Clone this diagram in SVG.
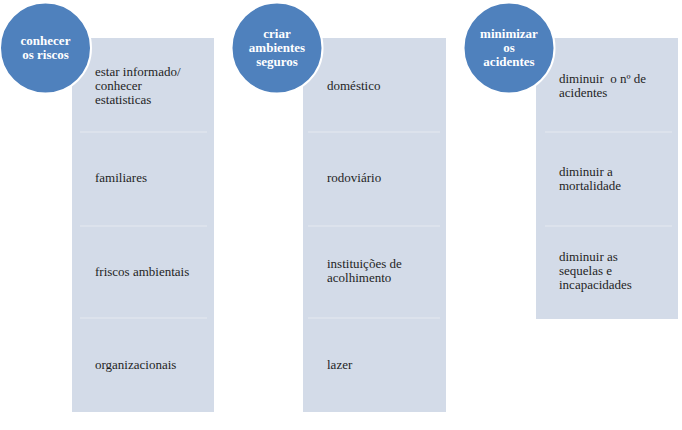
<svg xmlns="http://www.w3.org/2000/svg" width="682" height="430" viewBox="0 0 682 430">
<style>
.panel{fill:#D3DBE8}
.sep{stroke:#DCE2EC;stroke-width:2}
.circ{fill:#4F81BD;stroke:#FFFFFF;stroke-width:2}
.t{font-family:"Liberation Serif","Times New Roman",serif;font-size:13px;fill:#1F1F1F}
.ct{font-family:"Liberation Serif","Times New Roman",serif;font-size:13px;font-weight:bold;fill:#FFFFFF;text-anchor:middle}
</style>
<rect width="682" height="430" fill="#FFFFFF"/>
<g id="connectors"></g>
<g id="col1">
<rect class="panel" x="72" y="38" width="142" height="374"/>
<line class="sep" x1="80" y1="132" x2="207" y2="132"/>
<line class="sep" x1="80" y1="226" x2="207" y2="226"/>
<line class="sep" x1="80" y1="318" x2="207" y2="318"/>
<text class="t" x="95" y="76">estar informado/</text>
<text class="t" x="95" y="90">conhecer</text>
<text class="t" x="95" y="104">estatisticas</text>
<text class="t" x="95" y="182">familiares</text>
<text class="t" x="95" y="276">friscos ambientais</text>
<text class="t" x="95" y="369">organizacionais</text>
</g>
<g id="circle1">
<circle class="circ" cx="45.5" cy="48" r="45.5"/>
<text class="ct" x="45.5" y="45">conhecer</text>
<text class="ct" x="45.5" y="59">os riscos</text>
</g>
<g id="col2">
<rect class="panel" x="303" y="38" width="143" height="374"/>
<line class="sep" x1="308" y1="132" x2="440" y2="132"/>
<line class="sep" x1="308" y1="226" x2="440" y2="226"/>
<line class="sep" x1="308" y1="318" x2="440" y2="318"/>
<text class="t" x="327" y="90">doméstico</text>
<text class="t" x="327" y="182">rodoviário</text>
<text class="t" x="327" y="268">instituições de</text>
<text class="t" x="327" y="282">acolhimento</text>
<text class="t" x="327" y="369">lazer</text>
</g>
<g id="circle2">
<circle class="circ" cx="277" cy="48" r="45.5"/>
<text class="ct" x="277" y="38">criar</text>
<text class="ct" x="277" y="52">ambientes</text>
<text class="ct" x="277" y="66">seguros</text>
</g>
<g id="col3">
<rect class="panel" x="536" y="38" width="142" height="281"/>
<line class="sep" x1="545" y1="132" x2="672" y2="132"/>
<line class="sep" x1="545" y1="226" x2="672" y2="226"/>
<text class="t" x="559" y="83" xml:space="preserve">diminuir  o nº de</text>
<text class="t" x="559" y="97">acidentes</text>
<text class="t" x="559" y="176">diminuir a</text>
<text class="t" x="559" y="190">mortalidade</text>
<text class="t" x="559" y="261">diminuir as</text>
<text class="t" x="559" y="275">sequelas e</text>
<text class="t" x="559" y="289">incapacidades</text>
</g>
<g id="circle3">
<circle class="circ" cx="509" cy="48" r="45.5"/>
<text class="ct" x="509" y="38">minimizar</text>
<text class="ct" x="509" y="52">os</text>
<text class="ct" x="509" y="66">acidentes</text>
</g>
</svg>
